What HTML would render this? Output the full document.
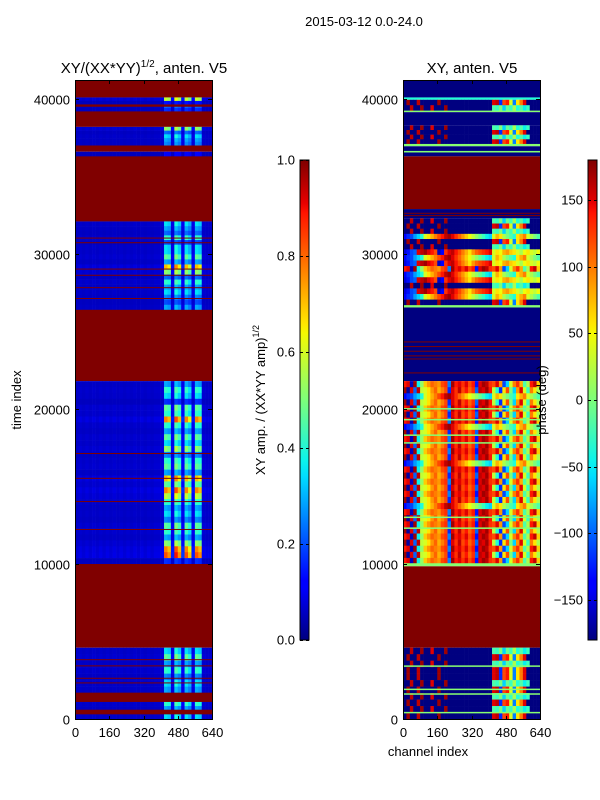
<!DOCTYPE html>
<html><head><meta charset="utf-8"><style>
html,body{margin:0;padding:0;background:#fff;}
svg{display:block;font-family:"Liberation Sans","DejaVu Sans",sans-serif;}
</style></head><body>
<svg id="fig" width="600" height="800" viewBox="0 0 600 800">
<rect x="0" y="0" width="600" height="800" fill="#fff"/>
<text x="364" y="26" font-size="13" text-anchor="middle">2015-03-12 0.0-24.0</text>
<text x="144" y="73" font-size="15" text-anchor="middle">XY/(XX*YY)<tspan font-size="10" dy="-6">1/2</tspan><tspan dy="6">, anten. V5</tspan></text>
<text x="472" y="73" font-size="15" text-anchor="middle">XY, anten. V5</text>
<g id="leftHeat"></g>
<g id="rightHeat"></g>
<g id="axes"></g>
<text transform="translate(21,400) rotate(-90)" font-size="13" text-anchor="middle">time index</text>
<text x="428" y="756" font-size="13" text-anchor="middle">channel index</text>
<text transform="translate(265,400) rotate(-90)" font-size="13" text-anchor="middle">XY amp. / (XX*YY amp)<tspan font-size="9" dy="-6">1/2</tspan></text>
<text transform="translate(546,400) rotate(-90)" font-size="13" text-anchor="middle">phase (deg)</text>
<defs>
<linearGradient id="jetV" x1="0" y1="1" x2="0" y2="0">
<stop offset="0" stop-color="#00007f"/><stop offset="0.11" stop-color="#0000ff"/><stop offset="0.125" stop-color="#0000ff"/>
<stop offset="0.34" stop-color="#00dcff"/><stop offset="0.375" stop-color="#0cf4eb"/><stop offset="0.5" stop-color="#7dff7a"/>
<stop offset="0.64" stop-color="#f6f900"/><stop offset="0.66" stop-color="#ffe600"/><stop offset="0.89" stop-color="#ff1300"/>
<stop offset="0.91" stop-color="#e80000"/><stop offset="1" stop-color="#7f0000"/>
</linearGradient>
</defs>
<rect x="300" y="160" width="9" height="480" fill="url(#jetV)" stroke="#000" stroke-width="1"/>
<rect x="588" y="160" width="9" height="480" fill="url(#jetV)" stroke="#000" stroke-width="1"/>
<g id="cbticks"></g>
</svg>
<script>
// ---- data ----
const timeTicks = [0, 10000, 20000, 30000, 40000];
const timeTickLabels = ["0", "10000", "20000", "30000", "40000"];
const chanTicks = [0, 160, 320, 480, 640];
const ampTicks = [0, 0.2, 0.4, 0.6, 0.8, 1.0];
const ampTickLabels = ["0.0", "0.2", "0.4", "0.6", "0.8", "1.0"];
const phaseTicks = [-150, -100, -50, 0, 50, 100, 150];
const phaseTickLabels = ["\u2212150", "\u2212100", "\u221250", "0", "50", "100", "150"];

// left panel: [start, end, type, intensities]; 's' = saturated (1.0), 'd' = data rows
const leftBands = [
 [40100, 41300, 's'],
 [39200, 40100, 'd', [0.9, 0.15, 0.3, 0.2]],
 [38200, 39200, 's'],
 [37000, 38200, 'd', [0.8, 0.3, 0.5, 0.4, 0.35]],
 [36600, 37000, 's'],
 [36300, 36600, 'd', [0.1]],
 [32100, 36300, 's'],
 [30300, 32100, 'd', [0.5, 0.4, 0.3, 0.6, 0.25, 0.5]],
 [26400, 30300, 'd', [0.5, 0.7, 0.4, 1.1, 0.8, 0.3, 0.6, 0.4, 0.5, 0.35, 0.25, 0.4]],
 [21800, 26400, 's'],
 [10000, 21800, 'd', [0.4, 0.6, 0.5, 0.2, 0.7, 0.6, 1.2, 0.6, 0.4, 0.7, 0.5, 0.8, 0.35, 0.6, 0.7, 0.4, 1.1, 0.7, 1.2, 0.9, 0.6, 0.4, 0.5, 0.35, 0.7, 0.6, 0.4, 0.8, 1.2, 1.3, 0.2]],
 [4600, 10000, 's'],
 [0, 4600, 'd', [0.5, 0.7, 0.4, 0.6, 0.35, 0.5, 0.4, 0.25, 0.6, 0.4, 0.5]]
];
const leftLines = [31000, 30700, 29000, 28600, 27800, 27100, 17100, 15500, 14000, 12200, 3800, 3400, 2600, 2300];
const leftLineBlocks = [[1100, 1700], [300, 600], [39500, 39650]];
// channel profile (40 bins of 16 channels)
const leftProfile = [0.02,0.03,0.02,0.03,0.02,0.03,0.02,0.03,0.02,0.03,0.02,0.03,0.02,0.03,0.02,0.03,0.02,0.03,0.02,0.03,0.02,0.03,0.02,0.03,0.03,0.04,
 0.6,0.55,0.08,0.65,0.55,0.1,0.6,0.5,0.08,0.6,0.55,0.04,0.03,0.03];

// right panel: [start, end, type, profile sequence]; n navy, r red, g green, c cyan, p profile rows
const rightBands = [
 [40100, 41300, 'n'],
 [39950, 40100, 'c'],
 [39250, 39950, 'p', [4, 3]],
 [39150, 39250, 'g'],
 [38300, 39150, 'n'],
 [37100, 38300, 'p', [3, 4, 3, 4]],
 [36950, 37100, 'g'],
 [36300, 36950, 'n'],
 [36550, 36650, 'g'],
 [32900, 36300, 'r'],
 [32300, 32900, 'n'],
 [30300, 32300, 'p', [3, 4, 3, 5, 4, 3]],
 [26700, 30300, 'p', [2, 5, 2, 1, 5, 2, 3, 2, 5, 4]],
 [26550, 26700, 'g'],
 [21800, 26550, 'n'],
 [10000, 21800, 'p', [1, 0, 5, 0, 1, 0, 1, 5, 0, 1, 0, 1, 0, 5, 1, 0, 1, 0, 1, 0, 5, 1, 0, 1, 0, 1, 0, 1, 0, 1]],
 [9850, 10050, 'g'],
 [4600, 9850, 'r'],
 [0, 4600, 'p', [3, 4, 3, 4, 4, 3, 4, 3, 4, 3, 4]]
];
const rightGreenLines = [20000, 19300, 18300, 17800, 13000, 12300, 3400, 1900, 1600, 400];
const rightRedLines = [32600, 32450, 24300, 24000, 23700, 23400, 23200, 22300, 6200];
const rightProfiles = [
 [170,-170,150,-100,160,30,40,60,90,110,80,100,120,-120,150,130,160,120,140,110,130,-100,160,150,170,140,30,-40,-120,60,120,0,-60,90,150,40,-30,100,60,20],
 [140,150,-160,170,-50,10,70,90,110,100,90,120,130,-90,170,140,150,130,150,120,140,-130,150,170,160,130,120,150,90,-110,-60,40,100,130,80,-20,20,140,160,70],
 [-150,-130,-110,-100,150,160,170,150,140,120,-160,-140,130,150,160,140,120,100,80,60,90,110,120,130,140,150,40,60,50,80,90,70,60,40,20,50,60,40,30,50],
 [-180,-180,160,-180,-180,170,-180,-180,150,-180,-180,-180,170,-180,-180,-180,-180,-180,-180,-180,-180,-180,-180,-180,-180,-180,-20,-30,0,-60,-10,-30,20,-40,-20,-50,-30,-180,-180,-180],
 [-180,170,-180,-180,160,-180,-180,-180,-180,-180,170,-180,-180,-180,-180,-180,-180,-180,-180,-180,-180,-180,-180,-180,-180,-180,150,160,-120,120,140,40,-90,60,100,150,-180,-180,-180,-180],
 [-140,-120,-110,-80,-60,-40,40,60,80,100,120,140,160,170,150,130,110,90,70,50,30,10,-10,-30,-50,-60,40,80,60,20,0,-20,-40,60,80,100,40,20,0,-20]
];

// ---- scales ----
const T_MAX = 41226;
function yScale(v) { return 719 - v / 10000 * 155; }
function xScaleL(c) { return 75 + c / 640 * 137; }
function xScaleR(c) { return 403 + c / 640 * 137; }
function jet(t) {
  t = Math.max(0, Math.min(1, t));
  function seg(pts) { for (let i = 1; i < pts.length; i++) { if (t <= pts[i][0]) { const a = pts[i-1], b = pts[i]; return a[1] + (b[1]-a[1]) * (t-a[0]) / (b[0]-a[0] || 1); } } return pts[pts.length-1][1]; }
  const r = seg([[0,0],[0.35,0],[0.66,1],[0.89,1],[1,0.5]]);
  const g = seg([[0,0],[0.125,0],[0.375,1],[0.64,1],[0.91,0],[1,0]]);
  const b = seg([[0,0.5],[0.11,1],[0.34,1],[0.65,0],[1,0]]);
  return "rgb(" + Math.round(r*255) + "," + Math.round(g*255) + "," + Math.round(b*255) + ")";
}
const NS = "http://www.w3.org/2000/svg";
function rect(parent, x, y, w, h, fill, name) {
  const r = document.createElementNS(NS, "rect");
  r.setAttribute("x", x); r.setAttribute("y", y);
  r.setAttribute("width", Math.max(w, 0.5)); r.setAttribute("height", Math.max(h, 0.6));
  r.setAttribute("fill", fill);
  
  
  parent.appendChild(r);
  return r;
}
const BIN = 16;
// ---- left heatmap ----
const LH = document.getElementById("leftHeat");
leftBands.forEach(function (b) {
  const top = Math.min(b[1], T_MAX);
  if (b[2] === 's') {
    rect(LH, xScaleL(0), yScale(top), xScaleL(640) - xScaleL(0), yScale(b[0]) - yScale(top), jet(1), "saturated-band");
  } else {
    const rows = b[3], h = (top - b[0]) / rows.length;
    rows.forEach(function (inten, i) {
      const v1 = top - i * h, v0 = v1 - h;
      leftProfile.forEach(function (p, k) {
        const val = 0.05 + p * inten;
        rect(LH, xScaleL(k*BIN), yScale(v1), xScaleL((k+1)*BIN) - xScaleL(k*BIN) + 0.3, yScale(v0) - yScale(v1) + 0.3, jet(val), "amp-cell");
      });
    });
  }
});
leftLines.forEach(function (v) {
  rect(LH, xScaleL(0), yScale(v + 60), 137, 1, jet(1), "saturated-line");
});
leftLineBlocks.forEach(function (b) {
  rect(LH, xScaleL(0), yScale(b[1]), 137, yScale(b[0]) - yScale(b[1]), jet(1), "saturated-block");
});
// ---- right heatmap ----
const RH = document.getElementById("rightHeat");
function ph(v) { return jet((v + 180) / 360); }
rightBands.forEach(function (b) {
  const top = Math.min(b[1], T_MAX);
  const t = b[2];
  if (t !== 'p') {
    const col = t === 'n' ? ph(-180) : t === 'r' ? ph(180) : t === 'g' ? ph(5) : ph(-40);
    rect(RH, xScaleR(0), yScale(top), 137, yScale(b[0]) - yScale(top), col, "phase-band");
  } else {
    const seq = b[3], h = (top - b[0]) / seq.length;
    seq.forEach(function (pi, i) {
      const v1 = top - i * h, v0 = v1 - h;
      rightProfiles[pi].forEach(function (val, k) {
        rect(RH, xScaleR(k*BIN), yScale(v1), xScaleR((k+1)*BIN) - xScaleR(k*BIN) + 0.3, yScale(v0) - yScale(v1) + 0.3, ph(val), "phase-cell");
      });
    });
  }
});
rightGreenLines.forEach(function (v) {
  rect(RH, xScaleR(0), yScale(v + 60), 137, 1.5, ph(5), "phase-green-line");
});
rightRedLines.forEach(function (v) {
  rect(RH, xScaleR(0), yScale(v + 60), 137, 1, ph(180), "phase-red-line");
});
// ---- axes ----
const AX = document.getElementById("axes");
function line(p, x1, y1, x2, y2, name) {
  const l = document.createElementNS(NS, "line");
  l.setAttribute("x1", x1); l.setAttribute("y1", y1); l.setAttribute("x2", x2); l.setAttribute("y2", y2);
  l.setAttribute("stroke", "#000"); l.setAttribute("stroke-width", "1");
  
  
  p.appendChild(l);
}
function text(p, x, y, s, anchor, name) {
  const t = document.createElementNS(NS, "text");
  t.setAttribute("x", x); t.setAttribute("y", y); t.setAttribute("font-size", "13");
  t.setAttribute("text-anchor", anchor);
  t.textContent = s;
  
  
  p.appendChild(t);
}
[[75, xScaleL], [403, xScaleR]].forEach(function (pair, pi) {
  const x0 = pair[0], xs = pair[1];
  const fr = document.createElementNS(NS, "rect");
  fr.setAttribute("x", x0 + 0.5); fr.setAttribute("y", 80.5); fr.setAttribute("width", 137); fr.setAttribute("height", 639);
  fr.setAttribute("fill", "none"); fr.setAttribute("stroke", "#000");
  
  
  AX.appendChild(fr);
  timeTicks.forEach(function (v, i) {
    const y = Math.round(yScale(v)) + 0.5;
    line(AX, x0, y, x0 + 4, y, "y-tick");
    line(AX, x0 + 137, y, x0 + 133, y, "y-tick");
    text(AX, x0 - 5, y + 5, timeTickLabels[i], "end", "y-tick-label");
  });
  chanTicks.forEach(function (c) {
    const x = Math.round(xs(c)) + 0.5;
    line(AX, x, 80, x, 84, "x-tick");
    line(AX, x, 720, x, 716, "x-tick");
    text(AX, x, 737, String(c), "middle", "x-tick-label");
  });
});
// ---- colorbar ticks ----
const CB = document.getElementById("cbticks");
ampTicks.forEach(function (v, i) {
  const y = Math.round(640 - v * 480) + 0.5;
  line(CB, 300, y, 303, y, "amp-tick"); line(CB, 309, y, 306, y, "amp-tick");
  text(CB, 295, y + 4, ampTickLabels[i], "end", "amp-tick-label");
});
phaseTicks.forEach(function (v, i) {
  const y = Math.round(160 + (180 - v) / 360 * 480) + 0.5;
  line(CB, 588, y, 591, y, "phase-tick"); line(CB, 597, y, 594, y, "phase-tick");
  text(CB, 583, y + 4, phaseTickLabels[i], "end", "phase-tick-label");
});
</script>
</body></html>
